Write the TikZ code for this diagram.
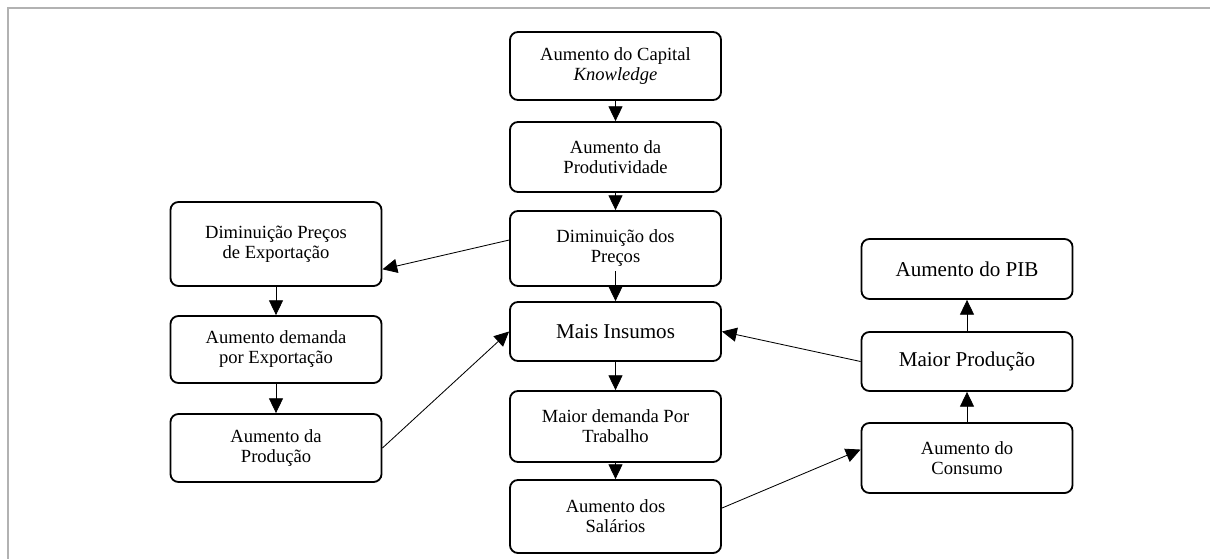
\documentclass[tikz,border=0pt]{standalone}
\usepackage{fontspec}
\setmainfont{Liberation Serif}
\usepackage{tikz}
\usetikzlibrary{arrows.meta,calc}
\tikzstyle{tsText} = [
    text=black,
    font=\fontsize{13.2}{14.2}\selectfont
]
\tikzstyle{tsBig} = [
    text=black,
    font=\fontsize{15}{17}\selectfont
]
\tikzstyle{tsBox} = [
    rectangle,
    rounded corners=0.2cm,
    draw=black,
    line width=1.3pt,
    minimum width=5.275cm,
    inner sep=0pt,
    align=center,
    fill=white]
\tikzstyle{tsArrow} = [
    -{Triangle[length=10.5pt,width=10pt]},
    line width=0.6pt,
    draw=black]
\tikzstyle{tsFrame} = [
    draw=black!30,
    line width=1.4pt]

\begin{document}
\begin{tikzpicture}[x=0.025cm, y=-0.025cm]

        \useasboundingbox (0,0) rectangle (1210,559);
        \draw[tsFrame] (1210,8) -- (8,8) -- (8,559);

        % middle column
        \node[tsBox, tsText, minimum height=1.7cm]   (cap)  at (615.5,66)    {Aumento do Capital\\\textit{Knowledge}};
        \node[tsBox, tsText, minimum height=1.75cm]  (prod) at (615.5,157)   {Aumento da\\Produtividade};
        \node[tsBox, tsText, minimum height=1.875cm] (dp)   at (615.5,248.5) {Diminuição dos\\Preços};
        \node[tsBox, tsBig,  minimum height=1.475cm] (mi)   at (615.5,331.5) {Mais Insumos};
        \node[tsBox, tsText, minimum height=1.775cm] (md)   at (615.5,426.5) {Maior demanda Por\\Trabalho};
        \node[tsBox, tsText, minimum height=1.825cm] (sal)  at (615.5,516.5) {Aumento dos\\Salários};

        % left column
        \node[tsBox, tsText, minimum height=2.1cm]   (dpe)  at (276,244)     {Diminuição Preços\\de Exportação};
        \node[tsBox, tsText, minimum height=1.675cm] (ade)  at (276,349.5)   {Aumento demanda\\por Exportação};
        \node[tsBox, tsText, minimum height=1.7cm]   (apr)  at (276,448)     {Aumento da\\Produção};

        % right column
        \node[tsBox, tsBig,  minimum height=1.5cm]   (pib)  at (967,269)     {Aumento do PIB};
        \node[tsBox, tsBig,  minimum height=1.475cm] (mp)   at (967,361.5)   {Maior Produção};
        \node[tsBox, tsText, minimum height=1.75cm]  (ac)   at (967,458)     {Aumento do\\Consumo};

        \draw[tsArrow] (cap) -- (prod);
        \draw[tsArrow] (prod) -- (dp);
        \draw[tsArrow] ([yshift=11pt]dp.south) -- (mi.north);
        \draw[tsArrow] (mi) -- (md);
        \draw[tsArrow] (md) -- (sal);
        \draw[tsArrow] ([yshift=6pt]dp.west) -- ([yshift=-18pt]dpe.east);
        \draw[tsArrow] (dpe) -- (ade);
        \draw[tsArrow] (ade) -- (apr);
        \draw[tsArrow] (apr.east) -- (mi.west);
        \draw[tsArrow] ([yshift=6pt]sal.east) -- ([yshift=6pt]ac.west);
        \draw[tsArrow] (ac) -- (mp);
        \draw[tsArrow] (mp) -- (pib);
        \draw[tsArrow] (mp.west) -- (mi.east);

\end{tikzpicture}
\end{document}
